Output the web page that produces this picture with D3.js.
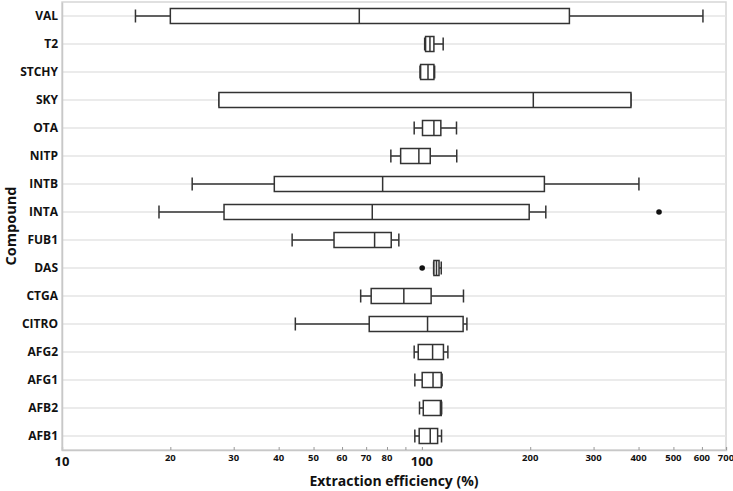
<!DOCTYPE html>
<html><head><meta charset="utf-8">
<script src="https://cdn.jsdelivr.net/npm/d3@7"></script>
<style>body{margin:0;background:#fff}svg{display:block}text{font-family:"Open Sans","Noto Sans",sans-serif;font-weight:bold;fill:#111}</style>
</head><body><svg id="c" width="733" height="491"></svg>
<script>
const categories = ["VAL","T2","STCHY","SKY","OTA","NITP","INTB","INTA","FUB1","DAS","CTGA","CITRO","AFG2","AFG1","AFB2","AFB1"];
const whiskerLow  = [16,   101.8, 98.8, 27.3, 95.2, 82,   23,   18.6, 43.6, 107.8, 67.6, 44.5, 95.2, 95.6, 98.5, 95.6];
const q1          = [20,   102.4, 99.2, 27.3, 100.4,87.3, 38.9, 28.2, 57,   108,   72.3, 71.4, 97.7, 100.2,100.9,98.3];
const median      = [67,   105.3, 104,  204,  108,  98.1, 77.8, 72.8, 73.9, 109.8, 89.1, 103.7,107.1,107.4,112.6,105.5];
const q3          = [257,  108,   108,  381,  112.9,105.5,219,  198.7,82.2, 111.6, 106.1,130.2,114.8,113.2,113.2,110.6];
const whiskerHigh = [604,  114.6, 108.5,381,  124.8,125,  401,  221,  86.3, 113.2, 130.5,133.4,118.1,113.8,113.5,113.4];
const outliers    = [["INTA",456],["DAS",100.2]];
const majorTicks = [10,100];
const tickLabels = [10,20,30,40,50,60,70,80,100,200,300,400,500,600,700];
const minorTicks = [10,20,30,40,50,60,70,80,90,100,200,300,400,500,600,700];

const svg = d3.select("#c");
const L=62, R=726, T=2, B=450;
const x = d3.scaleLog().domain([10,700]).range([L,R]);
const y = d3.scaleBand().domain(categories).range([T,B]).padding(0);
const bh = 15, cap = 13;

// frame
svg.append("rect").attr("x",L).attr("y",T).attr("width",R-L).attr("height",B-T)
  .attr("fill","none").attr("stroke","#d6d6d6").attr("stroke-width",1.5);

// gridlines
svg.append("g").selectAll("line").data(categories).join("line")
  .attr("x1",L).attr("x2",R)
  .attr("y1",d=>y(d)+y.bandwidth()/2).attr("y2",d=>y(d)+y.bandwidth()/2)
  .attr("stroke","#e4e4e4").attr("stroke-width",1.5);

// x axis
const xa = svg.append("g").attr("transform",`translate(0,${B})`)
  .call(d3.axisTop(x).tickValues(minorTicks).tickSize(3).tickFormat(""));
xa.select(".domain").attr("stroke","#c8c8c8").attr("stroke-width",1.5);
xa.selectAll(".tick line").attr("stroke","#999");
svg.append("g").selectAll("text").data(tickLabels).join("text")
  .attr("x",d=>x(d)).attr("y",d=>majorTicks.includes(d)?466:461)
  .attr("text-anchor","middle")
  .style("font-size",d=>majorTicks.includes(d)?"13px":"9.5px")
  .text(d=>d);

// y axis
const ya = svg.append("g").attr("transform",`translate(${L},0)`)
  .call(d3.axisLeft(y).tickSize(0).tickPadding(4));
ya.select(".domain").attr("stroke","#c8c8c8").attr("stroke-width",1.5);
ya.selectAll("text").style("font-size","12px").style("font-family",'"Open Sans","Noto Sans",sans-serif').style("font-weight","bold").attr("fill","#111");

// titles
svg.append("text").attr("x",(L+R)/2).attr("y",486).attr("text-anchor","middle")
  .style("font-size","14px").text("Extraction efficiency (%)");
svg.append("text").attr("transform",`translate(16,${(T+B)/2}) rotate(-90)`).attr("text-anchor","middle")
  .style("font-size","14.5px").text("Compound");

// boxes
const data = categories.map((c,i)=>({c,lo:whiskerLow[i],q1:q1[i],md:median[i],q3:q3[i],hi:whiskerHigh[i]}));
const g = svg.append("g").selectAll("g").data(data).join("g")
  .attr("transform",d=>`translate(0,${y(d.c)+y.bandwidth()/2})`);
const st = "#333", sw = 1.5;
g.append("line").attr("x1",d=>x(d.lo)).attr("x2",d=>x(d.q1)).attr("stroke",st).attr("stroke-width",sw);
g.append("line").attr("x1",d=>x(d.q3)).attr("x2",d=>x(d.hi)).attr("stroke",st).attr("stroke-width",sw);
g.append("line").attr("x1",d=>x(d.lo)).attr("x2",d=>x(d.lo)).attr("y1",-cap/2).attr("y2",cap/2).attr("stroke",st).attr("stroke-width",sw);
g.append("line").attr("x1",d=>x(d.hi)).attr("x2",d=>x(d.hi)).attr("y1",-cap/2).attr("y2",cap/2).attr("stroke",st).attr("stroke-width",sw);
g.append("rect").attr("x",d=>x(d.q1)).attr("width",d=>x(d.q3)-x(d.q1)).attr("y",-bh/2).attr("height",bh)
  .attr("fill","#fff").attr("stroke",st).attr("stroke-width",sw);
g.append("line").attr("x1",d=>x(d.md)).attr("x2",d=>x(d.md)).attr("y1",-bh/2).attr("y2",bh/2).attr("stroke",st).attr("stroke-width",sw);

svg.append("g").selectAll("circle").data(outliers).join("circle")
  .attr("cx",d=>x(d[1])).attr("cy",d=>y(d[0])+y.bandwidth()/2).attr("r",2.8).attr("fill","#111");
</script></body></html>
